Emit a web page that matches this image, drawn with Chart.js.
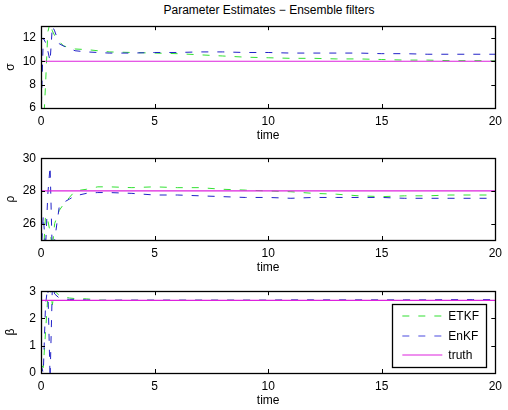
<!DOCTYPE html>
<html>
<head>
<meta charset="utf-8">
<script src="https://cdn.jsdelivr.net/npm/chart.js@4/dist/chart.umd.min.js"></script>
<style>
  body { margin: 0; background: #fff; }
  #wrap { position: relative; width: 508px; height: 410px; background: #fff; font-family: 'Liberation Sans', Arial, sans-serif; }
  canvas { position: absolute; left: 0; }
  #title { position: absolute; left: 41px; width: 456px; top: 3px; text-align: center; font-size: 12px; color: #000; }
</style>
</head>
<body>
<div id="wrap">
  <div id="title">Parameter Estimates − Ensemble filters</div>
  <canvas id="c1" width="508" height="129" style="top:14px"></canvas>
  <canvas id="c2" width="508" height="129" style="top:146px"></canvas>
  <canvas id="c3" width="508" height="129" style="top:279px"></canvas>
</div>
<script>
// ─── DATA ─────────────────────────────────────────────────────
const times = [0, 0.1, 0.2, 0.3, 0.4, 0.5, 0.6, 0.8, 1, 1.25, 1.5, 2, 2.5, 3, 4, 5, 6, 7, 8, 9, 10, 11, 12, 13, 14, 15, 16, 17, 18, 19, 20];
const truthTimes = [0, 20];

const sigmaETKF = [5, 4, 8, 12.5, 13.3, 12.6, 12.2, 11.7, 11.3, 11.2, 11.05, 11.0, 10.9, 10.8, 10.75, 10.7, 10.65, 10.55, 10.45, 10.35, 10.3, 10.25, 10.25, 10.2, 10.2, 10.15, 10.1, 10.1, 10.05, 10.05, 10.05];
const sigmaEnKF = [5, 12, 11.6, 10.9, 10, 13, 12.6, 11.5, 11.3, 11.1, 10.9, 10.8, 10.75, 10.7, 10.7, 10.75, 10.75, 10.8, 10.8, 10.75, 10.75, 10.7, 10.7, 10.7, 10.7, 10.65, 10.65, 10.6, 10.6, 10.6, 10.6];
const sigmaTruth = [10, 10];

const rhoETKF = [25, 24, 26.5, 26.2, 25.5, 24.5, 26, 26.8, 27.2, 27.6, 28, 28.1, 28.25, 28.25, 28.2, 28.25, 28.2, 28.2, 28.1, 28.05, 28, 27.95, 27.85, 27.8, 27.7, 27.65, 27.7, 27.7, 27.75, 27.75, 27.75];
const rhoEnKF = [24, 26.5, 24.5, 27.8, 29.5, 24, 25, 27, 27.3, 27.5, 27.7, 27.85, 27.9, 27.9, 27.85, 27.75, 27.75, 27.7, 27.65, 27.6, 27.6, 27.55, 27.6, 27.6, 27.6, 27.6, 27.55, 27.55, 27.55, 27.55, 27.55];
const rhoTruth = [28, 28];

const betaETKF = [0.3, 0.2, 1.5, 2.8, 3.1, 2.5, 3.0, 2.85, 2.8, 2.75, 2.73, 2.72, 2.68, 2.67, 2.67, 2.67, 2.67, 2.67, 2.67, 2.67, 2.67, 2.67, 2.67, 2.67, 2.67, 2.67, 2.67, 2.67, 2.67, 2.67, 2.67];
const betaEnKF = [0.3, 0, 2.5, 3.2, -0.2, 3.2, 2.9, 2.75, 2.72, 2.7, 2.7, 2.68, 2.66, 2.67, 2.67, 2.67, 2.67, 2.67, 2.67, 2.67, 2.67, 2.68, 2.68, 2.68, 2.68, 2.68, 2.68, 2.68, 2.69, 2.69, 2.69];
const betaTruth = [8 / 3, 8 / 3];

const xTicks = [0, 5, 10, 15, 20];
const sigmaTicks = [6, 8, 10, 12];
const rhoTicks = [26, 28, 30];
const betaTicks = [0, 1, 2, 3];
const seriesNames = ['ETKF', 'EnKF', 'truth'];

// ─── STYLE ────────────────────────────────────────────────────
const FONT = { family: "'Liberation Sans', Arial, sans-serif", size: 12 };
const GREEN = '#33e033', BLUE = '#2222c8', MAGENTA = '#dd22dd';
const DASH = [7, 9];
const legendStyle = [
  { color: GREEN, dash: DASH },
  { color: '#4a4ae0', dash: DASH },
  { color: MAGENTA, dash: [] }
];

const pts = (xs, ys) => xs.map((x, i) => ({ x, y: ys[i] }));

// box + inward ticks like matlab axes
const boxTicks = {
  id: 'boxTicks',
  afterDraw(chart) {
    const { ctx, chartArea: a, scales: { x, y } } = chart;
    ctx.save();
    ctx.strokeStyle = '#000';
    ctx.lineWidth = 1;
    ctx.beginPath();
    x.ticks.forEach(t => {
      const px = Math.round(x.getPixelForValue(t.value)) + 0.5;
      ctx.moveTo(px, a.bottom); ctx.lineTo(px, a.bottom - 4);
      ctx.moveTo(px, a.top); ctx.lineTo(px, a.top + 4);
    });
    y.ticks.forEach(t => {
      const py = Math.round(y.getPixelForValue(t.value)) + 0.5;
      ctx.moveTo(a.left, py); ctx.lineTo(a.left + 4, py);
      ctx.moveTo(a.right, py); ctx.lineTo(a.right - 4, py);
    });
    ctx.stroke();
    ctx.lineWidth = 1.3;
    ctx.strokeRect(Math.round(a.left) + 0.5, Math.round(a.top) + 0.5, Math.round(a.right - a.left), Math.round(a.bottom - a.top));
    ctx.restore();
  }
};

// legend box in the lower right of the last panel
const boxLegend = {
  id: 'boxLegend',
  afterDraw(chart) {
    const { ctx, chartArea: a } = chart;
    const w = 94, h = 63;
    const x0 = a.right - 9 - w, y0 = a.bottom - 6 - h;
    ctx.save();
    ctx.fillStyle = '#fff';
    ctx.fillRect(x0, y0, w, h);
    ctx.strokeStyle = '#000';
    ctx.lineWidth = 1.3;
    ctx.strokeRect(Math.round(x0) + 0.5, Math.round(y0) + 0.5, w, h);
    ctx.font = `${FONT.size}px ${FONT.family}`;
    ctx.textBaseline = 'middle';
    seriesNames.forEach((name, i) => {
      const ly = Math.round(y0 + 12 + i * 19.5);
      ctx.strokeStyle = legendStyle[i].color;
      ctx.lineWidth = 1.2;
      ctx.setLineDash(legendStyle[i].dash);
      ctx.beginPath();
      ctx.moveTo(x0 + 10, ly); ctx.lineTo(x0 + 50, ly);
      ctx.stroke();
      ctx.setLineDash([]);
      ctx.fillStyle = '#000';
      ctx.fillText(name, x0 + 56, ly + 0.5);
    });
    ctx.restore();
  }
};

function makePanel(id, etkf, enkf, truth, yTicks, yMin, yMax, yTitle, withLegend) {
  new Chart(document.getElementById(id), {
    type: 'line',
    data: {
      datasets: [
        { label: seriesNames[0], data: pts(times, etkf), borderColor: GREEN, borderDash: DASH, borderWidth: 1, pointRadius: 0, order: 2 },
        { label: seriesNames[1], data: pts(times, enkf), borderColor: BLUE, borderDash: DASH, borderWidth: 1, pointRadius: 0, order: 1 },
        { label: seriesNames[2], data: pts(truthTimes, truth), borderColor: MAGENTA, borderWidth: 1.2, pointRadius: 0, order: 0 }
      ]
    },
    options: {
      responsive: false, animation: false, devicePixelRatio: 1,
      layout: { padding: { top: 12, right: 11, bottom: 0, left: 0 } },
      plugins: { legend: { display: false }, tooltip: { enabled: false } },
      scales: {
        x: {
          type: 'linear', min: 0, max: 20,
          afterBuildTicks: s => { s.ticks = xTicks.map(v => ({ value: v })); },
          afterFit: s => { s.height = 35; },
          grid: { display: false, drawTicks: false },
          border: { display: false },
          ticks: { font: FONT, color: '#000', padding: 6, maxRotation: 0 },
          title: { display: true, text: 'time', font: FONT, color: '#000', padding: 0 }
        },
        y: {
          min: yMin, max: yMax,
          afterBuildTicks: s => { s.ticks = yTicks.map(v => ({ value: v })); },
          afterFit: s => { s.width = 41; },
          grid: { display: false, drawTicks: false },
          border: { display: false },
          ticks: { font: FONT, color: '#000', padding: 5 },
          title: { display: true, text: yTitle, font: FONT, color: '#000', padding: 3 }
        }
      }
    },
    plugins: withLegend ? [boxTicks, boxLegend] : [boxTicks]
  });
}

makePanel('c1', sigmaETKF, sigmaEnKF, sigmaTruth, sigmaTicks, 6, 13, 'σ', false);
makePanel('c2', rhoETKF, rhoEnKF, rhoTruth, rhoTicks, 25, 30, 'ρ', false);
makePanel('c3', betaETKF, betaEnKF, betaTruth, betaTicks, 0, 3, 'β', true);
</script>
</body>
</html>
